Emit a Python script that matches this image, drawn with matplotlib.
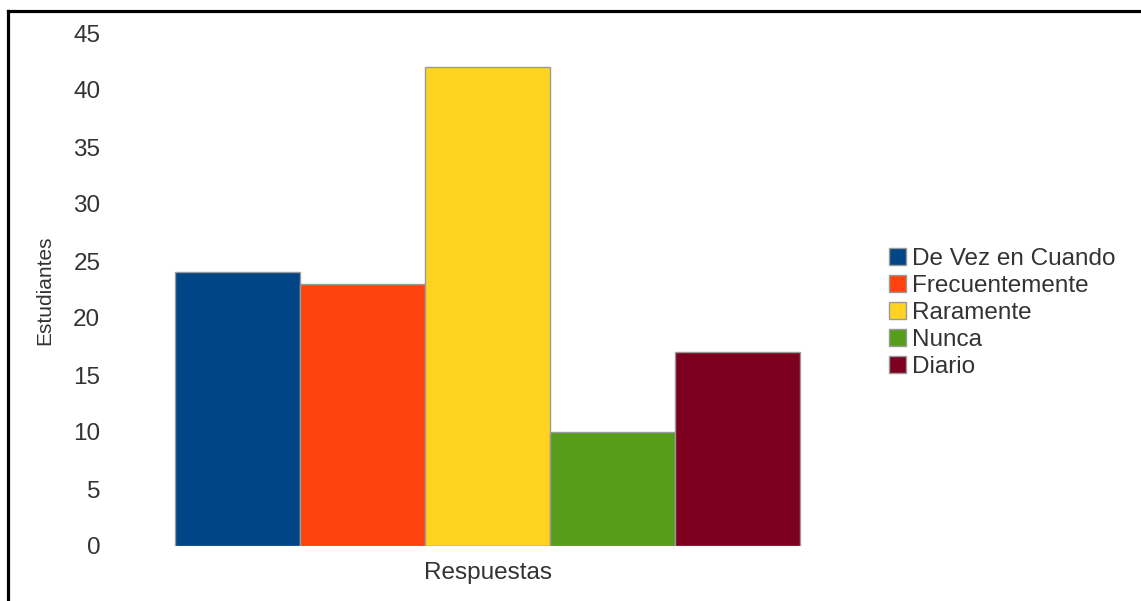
import matplotlib
matplotlib.use("Agg")
import matplotlib.pyplot as plt
from matplotlib.lines import Line2D

categories = ["De Vez en Cuando", "Frecuentemente", "Raramente", "Nunca", "Diario"]
values = [24, 23, 42, 10, 17]
colors = ["#004586", "#ff420e", "#ffd320", "#579d1c", "#7e0021"]
yticks = [0, 5, 10, 15, 20, 25, 30, 35, 40, 45]

plt.rcParams['font.family'] = ['Liberation Sans', 'DejaVu Sans']
txt = "#333333"
fs = 17.5

fig = plt.figure(figsize=(11.41, 6.01), dpi=100)
ax = fig.add_axes([160/1141, 1 - 546/601, 655/1141, 513/601])

positions = list(range(len(values)))
bars = ax.bar(positions, values, width=1.0, color=colors, edgecolor="#9a9a9a",
              linewidth=1.0)

ax.set_xlim(-0.62, len(values) - 1 + 0.62)
ax.set_ylim(0, 45)
ax.set_yticks(yticks)
ax.set_yticklabels([str(t) for t in yticks], fontsize=fs, color=txt)
ax.set_xticks([])
ax.tick_params(axis='y', length=0, pad=43)
for s in ax.spines.values():
    s.set_visible(False)

ax.set_xlabel("Respuestas", fontsize=fs, color=txt, va='center')
ax.xaxis.set_label_coords(0.5, (546 - 573) / 513)

fig.text(45/1141, 1 - 290/601, "Estudiantes", rotation=90, ha='center',
         va='center', fontsize=15, color=txt)

leg = fig.legend(handles=list(bars), labels=categories, loc='center left',
                 bbox_to_anchor=(889/1141, 1 - 313/601), frameon=False,
                 fontsize=fs, handlelength=0.7, handleheight=0.7,
                 handletextpad=0.25, labelspacing=0.21, borderpad=0,
                 borderaxespad=0)
for t in leg.get_texts():
    t.set_color(txt)

# outer border (top and left)
fig.add_artist(Line2D([7.5/1141, 1.0], [1 - 10.5/601, 1 - 10.5/601],
                      transform=fig.transFigure, color='black', linewidth=2.3))
fig.add_artist(Line2D([7.5/1141, 7.5/1141], [1 - 10.5/601, 0.0],
                      transform=fig.transFigure, color='black', linewidth=2.3))

fig.savefig("out.png", dpi=100)
